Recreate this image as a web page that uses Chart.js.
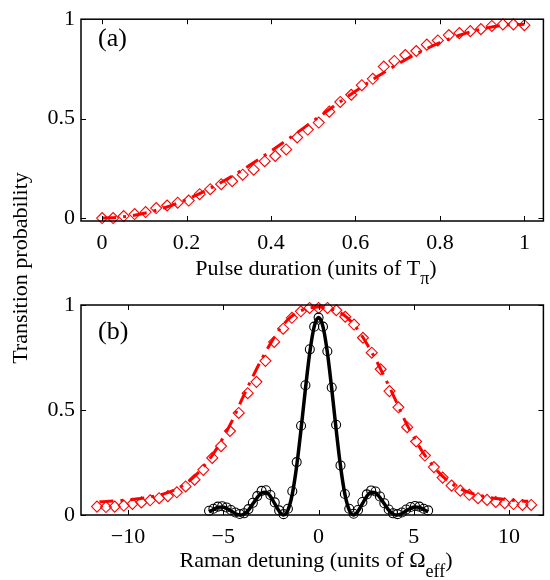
<!DOCTYPE html>
<html>
<head>
<meta charset="utf-8">
<script src="https://cdn.jsdelivr.net/npm/chart.js@4.4.1/dist/chart.umd.min.js"></script>
<style>
  html, body { margin: 0; padding: 0; background: #fff; }
  #wrap { position: relative; width: 550px; height: 580px; }
  #wrap canvas { position: absolute; left: 0; top: 0; }
</style>
</head>
<body>
<div id="wrap">
  <canvas id="chartA" width="550" height="580"></canvas>
  <canvas id="chartB" width="550" height="580"></canvas>
</div>
<script>
'use strict';

// ---- tick values and labels ----
const pulseTicks = [0, 0.2, 0.4, 0.6, 0.8, 1];
const pulseTickLabels = ['0', '0.2', '0.4', '0.6', '0.8', '1'];
const probTicks = [0, 0.5, 1];
const probTickLabels = ['0', '0.5', '1'];
const detuneTicks = [-10, -5, 0, 5, 10];
const detuneTickLabels = ['\u221210', '\u22125', '0', '5', '10'];

// ---- (a) pulse duration scan ----
const pulseT = [0, 0.026, 0.051, 0.077, 0.103, 0.128, 0.154, 0.179, 0.205, 0.231,
    0.256, 0.282, 0.308, 0.333, 0.359, 0.385, 0.41, 0.436, 0.462, 0.487,
    0.513, 0.538, 0.564, 0.59, 0.615, 0.641, 0.667, 0.692, 0.718, 0.744,
    0.769, 0.795, 0.821, 0.846, 0.872, 0.897, 0.923, 0.949, 0.974, 1.0];
const pulseP = [0.0, 0.0, 0.01, 0.02, 0.03, 0.05, 0.063, 0.077, 0.088, 0.12,
    0.145, 0.17, 0.185, 0.218, 0.243, 0.286, 0.312, 0.345, 0.405, 0.445,
    0.48, 0.535, 0.584, 0.62, 0.668, 0.70, 0.762, 0.79, 0.82, 0.84,
    0.872, 0.893, 0.92, 0.93, 0.94, 0.95, 0.966, 0.974, 0.974, 0.97];
const pulseFitT = [0, 0.05, 0.1, 0.15, 0.2, 0.25, 0.3, 0.35, 0.4, 0.45, 0.5,
    0.55, 0.6, 0.65, 0.7, 0.75, 0.8, 0.85, 0.9, 0.95, 1.0];
const pulseFitP = [0, 0.006, 0.024, 0.053, 0.093, 0.143, 0.201, 0.266, 0.337, 0.411, 0.488,
    0.564, 0.638, 0.709, 0.774, 0.832, 0.882, 0.922, 0.951, 0.969, 0.975];

// ---- (b) Raman detuning scan, long pulse (red) ----
const wideDet = [-11.63, -11.16, -10.70, -10.23, -9.77, -9.30, -8.84, -8.37, -7.91, -7.44,
    -6.98, -6.51, -6.05, -5.58, -5.12, -4.65, -4.19, -3.72, -3.26, -2.79,
    -2.33, -1.86, -1.40, -0.93, -0.47, 0, 0.47, 0.93, 1.40, 1.86,
    2.33, 2.79, 3.26, 3.72, 4.19, 4.65, 5.12, 5.58, 6.05, 6.51,
    6.98, 7.44, 7.91, 8.37, 8.84, 9.30, 9.77, 10.23, 10.70, 11.16];
const wideP = [0.04, 0.038, 0.04, 0.045, 0.053, 0.06, 0.07, 0.08, 0.09, 0.108,
    0.136, 0.168, 0.215, 0.272, 0.328, 0.40, 0.486, 0.58, 0.634, 0.734,
    0.824, 0.887, 0.939, 0.97, 0.986, 0.986, 0.986, 0.975, 0.944, 0.907,
    0.844, 0.773, 0.694, 0.59, 0.513, 0.418, 0.35, 0.283, 0.228, 0.178,
    0.14, 0.116, 0.096, 0.08, 0.072, 0.062, 0.056, 0.052, 0.048, 0.048];
const wideFitDet = [-11.5, -11, -10.5, -10, -9.5, -9, -8.5, -8, -7.5, -7, -6.5, -6,
    -5.5, -5, -4.5, -4, -3.5, -3, -2.5, -2, -1.5, -1, -0.5, 0,
    0.5, 1, 1.5, 2, 2.5, 3, 3.5, 4, 4.5, 5, 5.5, 6,
    6.5, 7, 7.5, 8, 8.5, 9, 9.5, 10, 10.5, 11];
const wideFitP = [0.063, 0.065, 0.068, 0.072, 0.077, 0.083, 0.092, 0.104, 0.122, 0.148, 0.185, 0.235,
    0.295, 0.37, 0.455, 0.555, 0.65, 0.74, 0.82, 0.89, 0.94, 0.97, 0.985, 0.99,
    0.985, 0.97, 0.94, 0.89, 0.82, 0.74, 0.65, 0.555, 0.455, 0.37, 0.295, 0.235,
    0.185, 0.148, 0.122, 0.104, 0.092, 0.083, 0.077, 0.072, 0.068, 0.065];

// ---- (b) Raman detuning scan, short pulse (black) ----
const narrowDet = [-5.75, -5.52, -5.29, -5.06, -4.83, -4.60, -4.37, -4.14, -3.91, -3.68,
    -3.45, -3.22, -2.99, -2.76, -2.53, -2.30, -2.07, -1.84, -1.61, -1.38,
    -1.15, -0.92, -0.69, -0.46, -0.23, 0, 0.23, 0.46, 0.69, 0.92,
    1.15, 1.38, 1.61, 1.84, 2.07, 2.30, 2.53, 2.76, 2.99, 3.22,
    3.45, 3.68, 3.91, 4.14, 4.37, 4.60, 4.83, 5.06, 5.29, 5.52, 5.75];
const narrowP = [0.020, 0.030, 0.040, 0.042, 0.036, 0.024, 0.012, 0.005, 0.008, 0.028,
    0.058, 0.090, 0.115, 0.118, 0.095, 0.060, 0.022, 0.004, 0.030, 0.113,
    0.252, 0.425, 0.618, 0.789, 0.897, 0.94, 0.897, 0.78, 0.607, 0.43,
    0.236, 0.10, 0.03, 0.006, 0.024, 0.062, 0.098, 0.117, 0.112, 0.088,
    0.056, 0.026, 0.008, 0.004, 0.012, 0.026, 0.038, 0.043, 0.040, 0.030, 0.022];
const narrowFitP = [0.015, 0.026, 0.036, 0.038, 0.032, 0.020, 0.007, 0.000, 0.005, 0.023,
    0.053, 0.083, 0.105, 0.108, 0.089, 0.054, 0.018, 0.000, 0.023, 0.099,
    0.233, 0.409, 0.601, 0.775, 0.897, 0.94, 0.897, 0.775, 0.601, 0.409,
    0.233, 0.099, 0.023, 0.000, 0.018, 0.054, 0.089, 0.108, 0.105, 0.083,
    0.053, 0.023, 0.005, 0.000, 0.007, 0.020, 0.032, 0.038, 0.036, 0.026, 0.015];

const SERIF = '"Liberation Serif", "Times New Roman", serif';
Chart.defaults.font.family = SERIF;
Chart.defaults.font.size = 22;
Chart.defaults.color = '#000';

function points(xs, ys) {
    return xs.map((x, i) => ({ x: x, y: ys[i] }));
}

// text with one subscript part, centred on cx
function drawSubText(ctx, parts, cx, baseline) {
    const mainFont = '22px ' + SERIF;
    const subFont = '18px ' + SERIF;
    ctx.font = mainFont;
    const w1 = ctx.measureText(parts[0]).width;
    const w3 = ctx.measureText(parts[2]).width;
    ctx.font = subFont;
    const w2 = ctx.measureText(parts[1]).width;
    let x = cx - (w1 + w2 + w3) / 2;
    ctx.textAlign = 'left';
    ctx.textBaseline = 'alphabetic';
    ctx.font = mainFont;
    ctx.fillText(parts[0], x, baseline);
    x += w1;
    ctx.font = subFont;
    ctx.fillText(parts[1], x, baseline + parts[3]);
    x += w2;
    ctx.font = mainFont;
    ctx.fillText(parts[2], x, baseline);
}

// box, inward ticks on all sides, panel letter and titles
const frame = {
    id: 'frame',
    afterDatasetsDraw(chart, args, opts) {
        const ctx = chart.ctx;
        const a = chart.chartArea;
        const sx = chart.scales.x;
        const sy = chart.scales.y;
        ctx.save();
        ctx.strokeStyle = '#000';
        ctx.lineWidth = 1;
        ctx.beginPath();
        opts.xTicks.forEach(v => {
            const px = Math.round(sx.getPixelForValue(v)) + 0.5;
            ctx.moveTo(px, a.bottom); ctx.lineTo(px, a.bottom - 5);
            ctx.moveTo(px, a.top); ctx.lineTo(px, a.top + 5);
        });
        opts.yTicks.forEach(v => {
            const py = Math.round(sy.getPixelForValue(v)) + 0.5;
            ctx.moveTo(a.left, py); ctx.lineTo(a.left + 5, py);
            ctx.moveTo(a.right, py); ctx.lineTo(a.right - 5, py);
        });
        ctx.stroke();
        ctx.lineWidth = 1.5;
        ctx.strokeRect(a.left, a.top, a.right - a.left, a.bottom - a.top);

        ctx.fillStyle = '#000';
        ctx.font = '26px ' + SERIF;
        ctx.textAlign = 'left';
        ctx.textBaseline = 'alphabetic';
        ctx.fillText(opts.panel, a.left + 17, a.top + opts.panelDy);

        drawSubText(ctx, opts.xTitle, 316, opts.xTitleBase);

        if (opts.yTitle) {
            ctx.save();
            ctx.translate(27, 268);
            ctx.rotate(-Math.PI / 2);
            ctx.font = '22px ' + SERIF;
            ctx.textAlign = 'center';
            ctx.textBaseline = 'alphabetic';
            ctx.fillText(opts.yTitle, 0, 0);
            ctx.restore();
        }
        ctx.restore();
    }
};

function xAxis(min, max, ticks, labels, height) {
    return {
        type: 'linear', position: 'bottom', min: min, max: max,
        grid: { display: false, drawTicks: false },
        border: { display: false },
        ticks: {
            padding: 9, maxRotation: 0, autoSkip: false,
            callback: (v, i) => labels[i]
        },
        afterBuildTicks: s => { s.ticks = ticks.map(v => ({ value: v })); },
        afterFit: s => { s.height = height; }
    };
}

function yAxis(min, max, ticks, labels) {
    return {
        type: 'linear', min: min, max: max,
        grid: { display: false, drawTicks: false },
        border: { display: false },
        ticks: {
            padding: 6, autoSkip: false,
            callback: (v, i) => labels[i]
        },
        afterBuildTicks: s => { s.ticks = ticks.map(v => ({ value: v })); },
        afterFit: s => { s.width = 81; }
    };
}

const markerSet = (data, style, radius, color, order) => ({
    data: data, showLine: false, pointStyle: style, pointRadius: radius,
    borderColor: color, backgroundColor: 'rgba(0,0,0,0)', pointBorderWidth: 1.1,
    order: order, clip: false
});
const lineSet = (data, color, width, dash, order) => ({
    data: data, showLine: true, pointRadius: 0, borderColor: color,
    borderWidth: width, borderDash: dash, cubicInterpolationMode: 'monotone',
    fill: false, order: order, clip: false
});

const baseOptions = {
    responsive: false, animation: false, devicePixelRatio: 1,
    events: []
};

new Chart(document.getElementById('chartA'), {
    type: 'line',
    data: {
        datasets: [
            markerSet(points(pulseT, pulseP), 'rectRot', 5.5, '#ff0000', 2),
            lineSet(points(pulseFitT, pulseFitP), '#ff0000', 3, [14, 7, 3, 7], 1)
        ]
    },
    options: Object.assign({}, baseOptions, {
        layout: { padding: { top: 13, right: 2, bottom: 0, left: 0 } },
        plugins: {
            legend: { display: false }, tooltip: { enabled: false },
            frame: {
                xTicks: pulseTicks, yTicks: probTicks, panel: '(a)', panelDy: 27,
                xTitle: ['Pulse duration (units of T', '\u03c0', ')', 9], xTitleBase: 275
            }
        },
        scales: {
            x: xAxis(-0.05, 1.045, pulseTicks, pulseTickLabels, 580 - 221),
            y: yAxis(-0.015, 1, probTicks, probTickLabels)
        }
    }),
    plugins: [frame]
});

new Chart(document.getElementById('chartB'), {
    type: 'line',
    data: {
        datasets: [
            markerSet(points(wideDet, wideP), 'rectRot', 5.5, '#ff0000', 4),
            lineSet(points(wideFitDet, wideFitP), '#ff0000', 3, [14, 7, 3, 7], 3),
            markerSet(points(narrowDet, narrowP), 'circle', 4.5, '#000000', 2),
            lineSet(points(narrowDet, narrowFitP), '#000000', 3.5, [], 1)
        ]
    },
    options: Object.assign({}, baseOptions, {
        layout: { padding: { top: 305, right: 2, bottom: 0, left: 0 } },
        plugins: {
            legend: { display: false }, tooltip: { enabled: false },
            frame: {
                xTicks: detuneTicks, yTicks: probTicks, panel: '(b)', panelDy: 34,
                xTitle: ['Raman detuning (units of \u03a9', 'eff', ')', 10], xTitleBase: 567,
                yTitle: 'Transition probability'
            }
        },
        scales: {
            x: xAxis(-12.47, 11.8, detuneTicks, detuneTickLabels, 580 - 515),
            y: yAxis(0, 1, probTicks, probTickLabels)
        }
    }),
    plugins: [frame]
});
</script>
</body>
</html>
